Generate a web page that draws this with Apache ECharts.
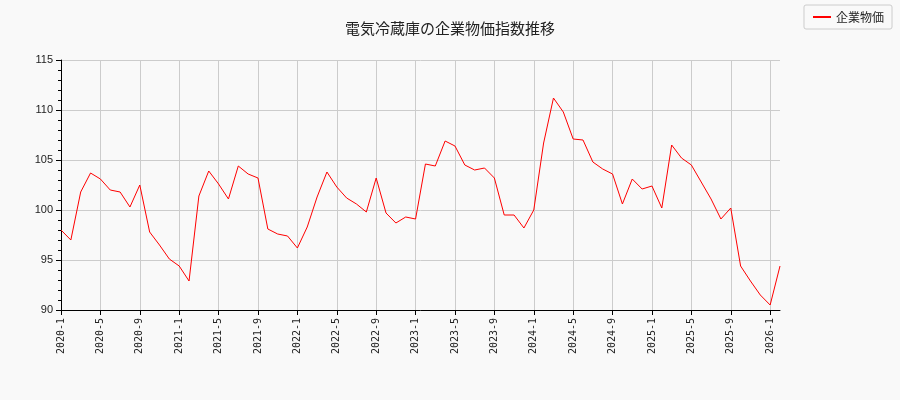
<!DOCTYPE html>
<html><head><meta charset="utf-8">
<script src="https://cdn.jsdelivr.net/npm/echarts@6/dist/echarts.min.js"></script>
<style>html,body{margin:0;background:#f9f9f9}#c{width:900px;height:400px}</style>
</head><body><div id="c"></div>
<script>
var months = [];
for (var y = 2020; y <= 2026; y++) {
  for (var m = 1; m <= 12; m++) {
    if (y === 2026 && m > 2) break;
    months.push(y + '-' + m);
  }
}
var values = [
  98.0, 97.0, 101.8, 103.7, 103.1, 102.0, 101.8, 100.3, 102.5, 97.8, 96.5, 95.1,
  94.4, 92.9, 101.4, 103.9, 102.6, 101.1, 104.4, 103.6, 103.2, 98.1, 97.6, 97.4,
  96.2, 98.3, 101.3, 103.8, 102.3, 101.2, 100.6, 99.8, 103.2, 99.7, 98.7, 99.3,
  99.1, 104.6, 104.4, 106.9, 106.4, 104.5, 104.0, 104.2, 103.2, 99.5, 99.5, 98.2,
  100.0, 106.7, 111.2, 109.8, 107.1, 107.0, 104.8, 104.1, 103.6, 100.6, 103.1, 102.1,
  102.4, 100.2, 106.5, 105.2, 104.5, 102.8, 101.1, 99.1, 100.2, 94.4, 92.9, 91.5,
  90.5, 94.4
];
var chart = echarts.init(document.getElementById('c'));
chart.setOption({
  backgroundColor: '#f9f9f9',
  animation: false,
  title: { text: '電気冷蔵庫の企業物価指数推移', left: 'center', top: 16,
    textStyle: { fontSize: 15, fontWeight: 'normal', color: '#222', fontFamily: 'Noto Sans CJK JP' } },
  legend: { right: 8, top: 5, data: ['企業物価'], itemWidth: 18, itemHeight: 2,
    borderColor: '#ccc', borderWidth: 1, borderRadius: 2, padding: [6, 8],
    textStyle: { fontSize: 12, color: '#222', fontFamily: 'Noto Sans CJK JP' } },
  grid: { left: 61, right: 120, top: 60, bottom: 90 },
  xAxis: {
    type: 'category', data: months, boundaryGap: false,
    axisLine: { lineStyle: { color: '#000' } },
    axisTick: { interval: 3, lineStyle: { color: '#000' } },
    axisLabel: { interval: 3, rotate: 90, fontSize: 10, color: '#222', fontFamily: 'DejaVu Sans Mono' },
    splitLine: { show: true, interval: 3, lineStyle: { color: '#ccc' } }
  },
  yAxis: {
    type: 'value', min: 90, max: 115, interval: 5,
    axisLine: { show: true, lineStyle: { color: '#000' } },
    axisTick: { show: true, lineStyle: { color: '#000' } },
    minorTick: { show: true, splitNumber: 5, lineStyle: { color: '#000' } },
    axisLabel: { fontSize: 11, color: '#222' },
    splitLine: { lineStyle: { color: '#ccc' } }
  },
  series: [{ name: '企業物価', type: 'line', data: values, symbol: 'none',
    lineStyle: { color: '#ff0000', width: 1 }, itemStyle: { color: '#ff0000' } }]
});
</script></body></html>
